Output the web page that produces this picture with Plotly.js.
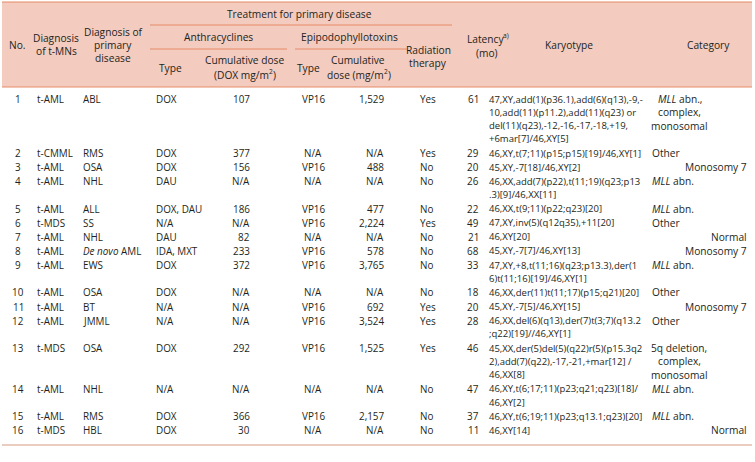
<!DOCTYPE html>
<html>
<head>
<meta charset="utf-8">
<script src="https://cdn.plot.ly/plotly-3.0.1.min.js"></script>
<style>html,body{margin:0;padding:0;background:#fff;}#chart{width:755px;height:462px;}</style>
</head>
<body>
<div id="chart"></div>
<script>
// ---------------- DATA ----------------
const caseNo = [1,2,3,4,5,6,7,8,9,10,11,12,13,14,15,16];
const diagnosisTMN = ["t-AML","t-CMML","t-AML","t-AML","t-AML","t-MDS","t-AML","t-AML","t-AML","t-AML","t-AML","t-AML","t-MDS","t-AML","t-AML","t-MDS"];
const primaryDisease = ["ABL","RMS","OSA","NHL","ALL","SS","NHL","De novo AML","EWS","OSA","BT","JMML","OSA","NHL","RMS","HBL"];
const anthraType = ["DOX","DOX","DOX","DAU","DOX, DAU","N/A","DAU","IDA, MXT","DOX","DOX","N/A","N/A","DOX","N/A","DOX","DOX"];
const anthraDose = [107,377,156,null,186,null,82,233,372,null,null,null,292,null,366,30];
const epiType = ["VP16","N/A","VP16","N/A","VP16","VP16","N/A","VP16","VP16","N/A","VP16","VP16","VP16","N/A","VP16","N/A"];
const epiDose = [1529,null,488,null,477,2224,null,578,3765,null,692,3524,1525,null,2157,null];
const radiation = ["Yes","Yes","No","No","No","Yes","No","No","No","No","Yes","Yes","Yes","No","No","No"];
const latency = [61,29,20,26,22,49,21,68,33,18,20,28,46,47,37,11];
const karyotype = [
  ["47,XY,add(1)(p36.1),add(6)(q13),-9,-","10,add(11)(p11.2),add(11)(q23) or","del(11)(q23),-12,-16,-17,-18,+19,","+6mar[7]/46,XY[5]"],
  ["46,XY,t(7;11)(p15;p15)[19]/46,XY[1]"],
  ["45,XY,-7[18]/46,XY[2]"],
  ["46,XX,add(7)(p22),t(11;19)(q23;p13",".3)[9]/46,XX[11]"],
  ["46,XX,t(9;11)(p22;q23)[20]"],
  ["47,XY,inv(5)(q12q35),+11[20]"],
  ["46,XY[20]"],
  ["45,XY,-7[7]/46,XY[13]"],
  ["47,XY,+8,t(11;16)(q23;p13.3),der(1","6)t(11;16)[19]/46,XY[1]"],
  ["46,XX,der(11)t(11;17)(p15;q21)[20]"],
  ["45,XY,-7[5]/46,XY[15]"],
  ["46,XX,del(6)(q13),der(7)t(3;7)(q13.2",";q22)[19]//46,XY[1]"],
  ["45,XX,der(5)del(5)(q22)r(5)(p15.3q2","2),add(7)(q22),-17,-21,+mar[12] /","46,XX[8]"],
  ["46,XY,t(6;17;11)(p23;q21;q23)[18]/","46,XY[2]"],
  ["46,XY,t(6;19;11)(p23;q13.1;q23)[20]"],
  ["46,XY[14]"]
];
const category = [
  ["MLL abn.,","complex,","monosomal"],["Other"],["Monosomy 7"],["MLL abn."],["MLL abn."],["Other"],["Normal"],["Monosomy 7"],
  ["MLL abn."],["Other"],["Monosomy 7"],["Other"],["5q deletion,","complex,","monosomal"],["MLL abn."],["MLL abn."],["Normal"]
];

// ---------------- STYLE / LAYOUT ----------------
const W = 755, H = 462;
const FAM = "Open Sans";
const FONT = "'Open Sans', 'Noto Sans', sans-serif";
const FS = 9.9, KFS = 9.5, CFS = 10.2, HFS = 10.2;
const SUP = 0.65, SUP_SHIFT = 0.3;
const TXT = "#231f20";
const HEAD_BG = "#f3cbbf";
const RULE = "#e58a66";
const firstLineY = 99, linePitch = 13.3, rowGap = 0.8;
const italicWords = ["MLL","De novo"];
const rightCats = ["Monosomy 7","Normal"];

function fmt(v){ return v === null ? "N/A" : v.toLocaleString("en-US"); }
function markItalic(s){ let o = String(s); italicWords.forEach(w=>{ o = o.split(w).join("<i>"+w+"</i>"); }); return o; }

const ctx = document.createElement("canvas").getContext("2d");
function measure(t, size, italic){
  ctx.font = (italic ? "italic " : "") + size + "px '" + FAM + "'";
  return ctx.measureText(t).width;
}
function parse(line){
  return line.split(/(<i>.*?<\/i>|<sup>.*?<\/sup>)/).filter(s=>s.length).map(s=>{
    if (s.startsWith("<i>")) return {t:s.slice(3,-4), kind:"i"};
    if (s.startsWith("<sup>")) return {t:s.slice(5,-6), kind:"sup"};
    return {t:s, kind:"n"};
  });
}
function lineWidth(line, size){
  return parse(line).reduce((a,s)=>a + measure(s.t, s.kind==="sup" ? size*SUP : size, s.kind==="i"), 0);
}

const annotations = [];
function ann(text, x, y, anchor, size, italic){
  annotations.push({text:text, x:x, y:y, xref:"x", yref:"y", showarrow:false,
    xanchor:anchor, yanchor:"middle", align:anchor, borderpad:0,
    font:{family:FONT, size:size, color:TXT, style: italic ? "italic" : "normal"}});
}
function place(line, x, y, align, size){
  const segs = parse(line);
  if (segs.length === 1 && segs[0].kind === "n") { ann(segs[0].t, x, y, align, size, false); return; }
  const total = lineWidth(line, size);
  let run = align === "left" ? x : align === "center" ? x - total/2 : x - total;
  segs.forEach(s=>{
    const sz = s.kind === "sup" ? size*SUP : size;
    const it = s.kind === "i";
    const lead = s.t.match(/^\s*/)[0];
    const body = s.t.slice(lead.length);
    const off = lead.length ? measure(lead, sz, it) : 0;
    if (body.trim().length) ann(body, run + off, s.kind === "sup" ? y - size*SUP_SHIFT : y, "left", sz, it);
    run += measure(s.t, sz, it);
  });
}

const cols = [
  {get:i=>[String(caseNo[i])], x:18, align:"center", size:FS},
  {get:i=>[diagnosisTMN[i]], x:36, align:"left", size:FS},
  {get:i=>[markItalic(primaryDisease[i])], x:82, align:"left", size:FS},
  {get:i=>[anthraType[i]], x:155, align:"left", size:FS},
  {get:i=>[fmt(anthraDose[i])], x:251, align:"right", size:FS},
  {get:i=>[epiType[i]], x:313, align:"center", size:FS},
  {get:i=>[fmt(epiDose[i])], x:385, align:"right", size:FS},
  {get:i=>[radiation[i]], x:419, align:"left", size:FS},
  {get:i=>[String(latency[i])], x:473, align:"center", size:FS},
  {get:i=>karyotype[i], x:488, align:"left", size:KFS},
  {get:i=>category[i].map(markItalic), x:651, align:"block", size:CFS, rightX:748}
];

// body
let y = firstLineY;
for (let i = 0; i < caseNo.length; i++){
  let nLines = 1;
  cols.forEach(c=>{ nLines = Math.max(nLines, c.get(i).length); });
  cols.forEach(c=>{
    const lines = c.get(i);
    if (c.align === "block"){
      if (lines.length === 1 && rightCats.includes(lines[0])) { place(lines[0], c.rightX, y, "right", c.size); return; }
      if (lines.length === 1) { place(lines[0], c.x, y, "left", c.size); return; }
      const maxW = Math.max(...lines.map(l=>lineWidth(l, c.size)));
      lines.forEach((l,k)=> place(l, c.x + maxW/2, y + k*linePitch, "center", c.size));
      return;
    }
    lines.forEach((line, k)=> place(line, c.x, y + k*linePitch, c.align, c.size));
  });
  y += nLines*linePitch + rowGap;
}

// header
const header = [
  ["No.", 17, [45]],
  ["Diagnosis|of t-MNs", 56, [38,51]],
  ["Diagnosis of|primary|disease", 113, [32,45,58]],
  ["Treatment for primary disease", 299, [14]],
  ["Anthracyclines", 218, [37]],
  ["Epipodophyllotoxins", 349, [37]],
  ["Radiation|therapy", 428, [50,63]],
  ["Latency<sup>a)</sup>|(mo)", 487, [39,52.5]],
  ["Karyotype", 569, [45]],
  ["Category", 708, [45]],
  ["Type", 170, [68]],
  ["Cumulative dose|(DOX mg/m<sup>2</sup>)", 244, [60,74.5]],
  ["Type", 308, [68]],
  ["Cumulative|dose (mg/m<sup>2</sup>)", 358, [60,74.5]]
];
header.forEach(([t, x, ys])=>{
  t.split("|").forEach((line, k)=> place(line, x, ys[k], "center", HFS));
});

const shapes = [
  {type:"rect", xref:"x", yref:"y", x0:2, x1:752, y0:2, y1:87, fillcolor:HEAD_BG, line:{width:0}, layer:"below"},
  {type:"line", xref:"x", yref:"y", x0:2, x1:752, y0:2, y1:2, line:{color:RULE, width:1}},
  {type:"line", xref:"x", yref:"y", x0:2, x1:752, y0:87, y1:87, line:{color:RULE, width:1}},
  {type:"line", xref:"x", yref:"y", x0:150, x1:452, y0:25, y1:25, line:{color:RULE, width:1}},
  {type:"line", xref:"x", yref:"y", x0:150, x1:287, y0:49, y1:49, line:{color:RULE, width:1}},
  {type:"line", xref:"x", yref:"y", x0:295, x1:407, y0:49, y1:49, line:{color:RULE, width:1}},
  {type:"line", xref:"x", yref:"y", x0:2, x1:752, y0:445, y1:445, line:{color:"#d79b80", width:1}}
];

const layout = {
  width:W, height:H, margin:{l:0,r:0,t:0,b:0}, showlegend:false,
  paper_bgcolor:"#ffffff", plot_bgcolor:"#ffffff",
  xaxis:{range:[0,W], visible:false, fixedrange:true},
  yaxis:{range:[H,0], visible:false, fixedrange:true},
  annotations:annotations, shapes:shapes
};
Plotly.newPlot("chart", [{type:"scatter", x:[], y:[], hoverinfo:"skip"}], layout, {staticPlot:true});
</script>
</body>
</html>
